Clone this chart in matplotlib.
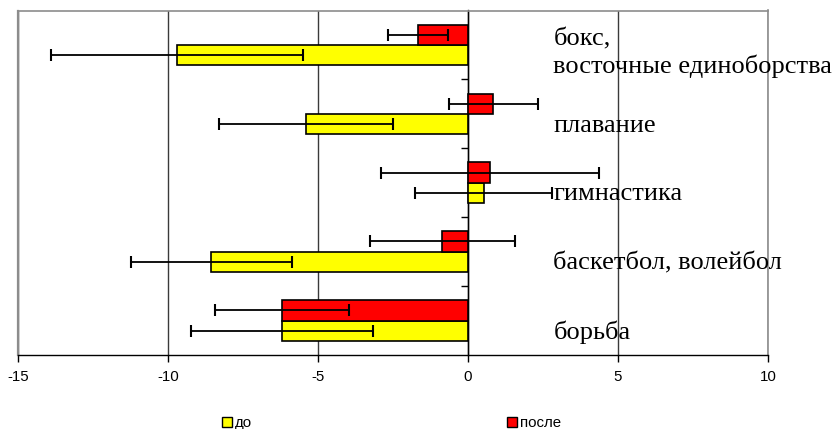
import numpy as np
import matplotlib
matplotlib.use("Agg")
import matplotlib.pyplot as plt
from matplotlib.patches import Patch

# sports, bottom to top
sports = ["борьба", "баскетбол, волейбол", "гимнастика", "плавание",
          "бокс,\nвосточные единоборства"]

before = [-6.2, -8.55, 0.52, -5.4, -9.7]
before_err = [3.03, 2.67, 2.27, 2.9, 4.2]
after = [-6.2, -0.86, 0.74, 0.85, -1.65]
after_err = [2.24, 2.41, 3.63, 1.47, 1.0]

series_names = ["до", "после"]
xticks = [-15, -10, -5, 0, 5, 10]

SANS = "Liberation Sans"
SERIF = "Liberation Serif"

fig = plt.figure(figsize=(8.37, 4.29), dpi=100)
ax = fig.add_axes([18 / 837, 1 - 355 / 429, 750 / 837, 344.5 / 429])

y = np.arange(len(sports))
h = 0.295

ax.barh(y - h / 2, before, height=h, color="#FFFF00", edgecolor="black",
        linewidth=1.2, zorder=3)
ax.barh(y + h / 2, after, height=h, color="#FF0000", edgecolor="black",
        linewidth=1.2, zorder=3)
ax.errorbar(before, y - h / 2, xerr=before_err, fmt="none", ecolor="black",
            elinewidth=1.3, capsize=4, capthick=1.5, zorder=4)
ax.errorbar(after, y + h / 2, xerr=after_err, fmt="none", ecolor="black",
            elinewidth=1.3, capsize=4, capthick=1.5, zorder=4)

for i, name in enumerate(sports):
    off = -0.12 if "\n" in name else -0.17
    ax.text(2.85, i + off, name, ha="left", va="center", fontsize=19,
            family=SERIF, linespacing=1.2, zorder=5, clip_on=False)

ax.set_xlim(-15, 10)
ax.set_ylim(-0.5, len(sports) - 0.5)
ax.set_xticks(xticks)
ax.set_xticklabels([str(t) for t in xticks], family=SANS, fontsize=10.8)
ax.tick_params(axis="x", direction="out", length=5, width=1, pad=6,
               color="black")

# vertical category axis sits at zero
ax.spines["left"].set_position(("data", 0))
ax.spines["left"].set_color("black")
ax.spines["left"].set_linewidth(1)
ax.set_yticks(y[:-1] + 0.5)
ax.set_yticklabels([])
ax.tick_params(axis="y", direction="out", length=5, width=1, color="black")

ax.spines["bottom"].set_color("black")
ax.spines["bottom"].set_linewidth(1)
for s in ["top", "right"]:
    ax.spines[s].set_color("#8c8c8c")
    ax.spines[s].set_linewidth(1.2)
ax.plot([0, 0], [0, 1], transform=ax.transAxes, color="#8c8c8c", lw=1.6,
        clip_on=False, zorder=2)

ax.grid(axis="x", color="#3a3a3a", linewidth=1, zorder=1)
ax.set_axisbelow(True)

handles = [Patch(facecolor="#FFFF00", edgecolor="black", linewidth=1),
           Patch(facecolor="#FF0000", edgecolor="black", linewidth=1)]
fig.legend(handles, series_names, loc="center left",
           bbox_to_anchor=(222 / 837, 1 - 423 / 429), ncol=2, frameon=False,
           prop={"family": SANS, "size": 10.8}, handlelength=0.65,
           handleheight=0.65, handletextpad=0.2, columnspacing=17.0,
           borderpad=0, borderaxespad=0)

fig.savefig("out.png", dpi=100)
